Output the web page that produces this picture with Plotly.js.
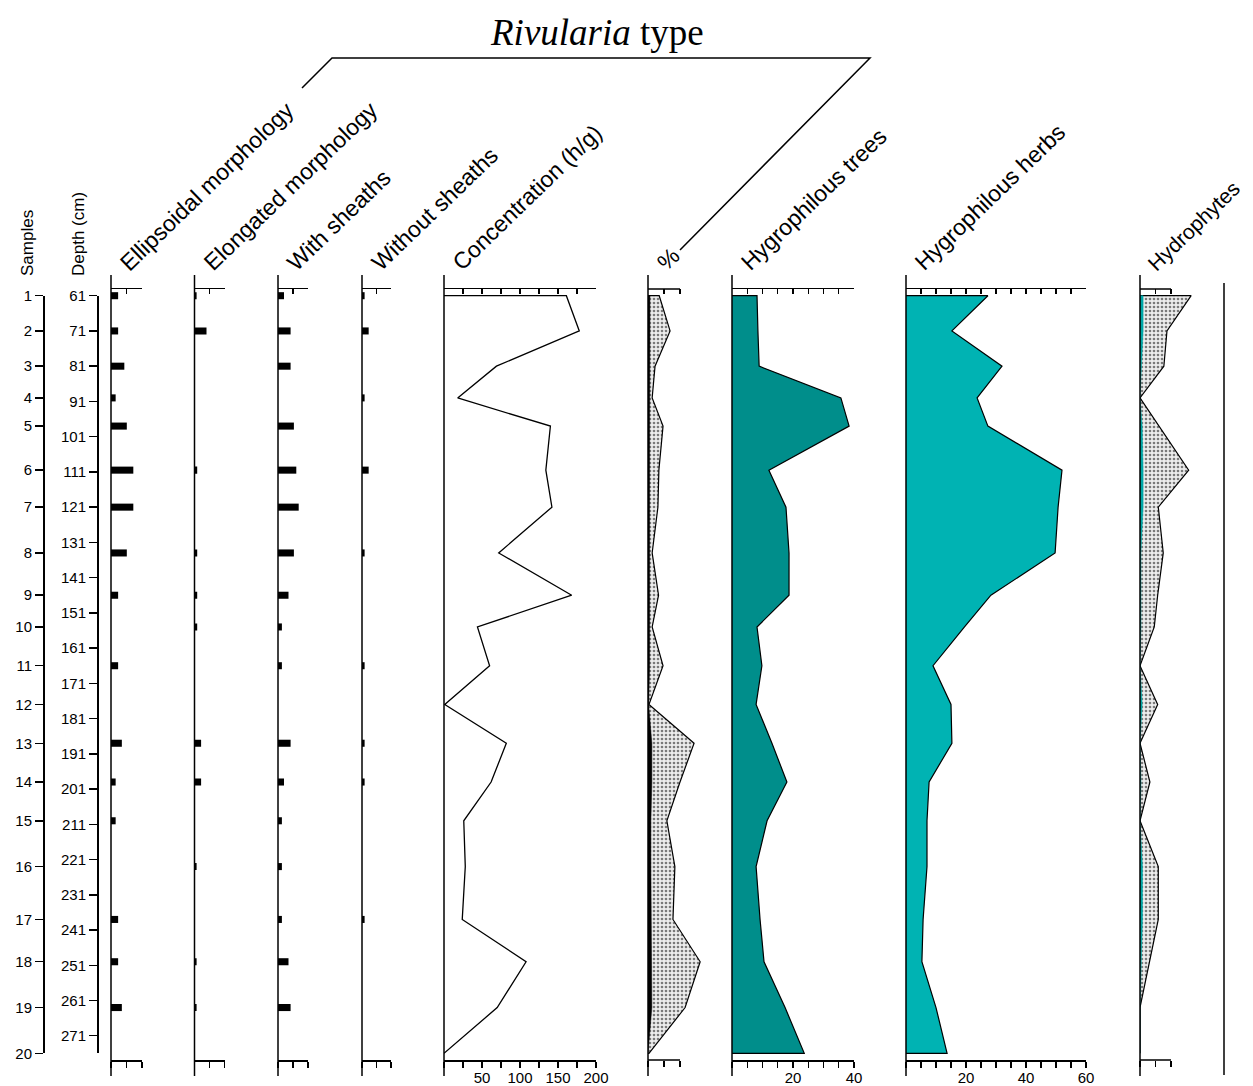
<!DOCTYPE html>
<html>
<head>
<meta charset="utf-8">
<script src="https://cdn.plot.ly/plotly-3.0.1.min.js"></script>
<style>html,body{margin:0;padding:0;background:#fff}#chart{width:1253px;height:1086px}</style>
</head>
<body>
<div id="chart"></div>
<script>
// ---------------- DATA ----------------
const sampleLabels = ['1','2','3','4','5','6','7','8','9','10','11','12','13','14','15','16','17','18','19','20'];
const sampleDepths = [61,71,81,90,98,110.5,121,134,146,155,166,177,188,199,210,223,238,250,263,276];
const depthTicks = [61,71,81,91,101,111,121,131,141,151,161,171,181,191,201,211,221,231,241,251,261,271];

const ellipsoidal   = [2.3,2.3,4.3,1.5,5.1,7.2,7.2,5.1,2.3,0,2.3,0,3.5,1.5,1.5,0,2.3,2.3,3.5,0];
const elongated     = [0.7,4.0,0,0,0,0.9,0,0.9,0.9,0.9,0,0,2.2,2.2,0,0.7,0,0.7,0.7,0];
const withSheaths   = [2.0,4.2,4.2,0,5.3,6.1,6.9,5.3,3.5,1.3,1.3,0,4.2,2.0,1.3,1.3,1.3,3.5,4.2,0];
const withoutSheaths= [0.9,2.3,0,0.9,0,2.3,0,0.9,0,0,0.9,0,0.9,0.9,0,0,0.9,0,0,0];
const concentration = [161,178,69,18,140,134,142,72,168,44,60,1,82,62,26,28,24,108,70,0];
const rivPercent    = [0.6,0.6,0.5,0.5,0.5,0.5,0.5,0.5,0.5,0.5,0.5,0.2,1.2,1.2,0.9,0.9,1.1,1.2,1.2,0];
const rivPercentExag= [3.5,6.9,2.2,1.3,4.7,3.4,3.1,1.3,3.3,1.3,4.7,0.3,14.4,10,5.9,8.4,7.8,16.3,11.6,0.3];
const hygroTrees    = [8.2,8.5,8.9,35.7,38.4,12.1,17.7,18.7,18.7,8.2,9.8,7.9,13.1,18,11.5,7.9,9.2,10.5,17.4,23.7];
const hygroHerbs    = [27.3,15.3,32,23.7,27.3,52,50.7,49.7,28.3,19.5,9,15,15.3,7.7,7,7,5.7,5.3,10,13.7];
const hydrophytes   = [1,1,0.5,0,0.7,1,1,0.3,0.3,0.3,0,0.7,0,0.3,0,0.8,0.8,0.3,0,0];
const hydrophytesExag=[16.5,8.7,7.7,0,6.1,15.7,5.9,7.5,5.7,4.6,0,5.7,0,3.2,0,5.9,5.9,3,0,0];

const headers = ['Ellipsoidal morphology','Elongated morphology','With sheaths','Without sheaths',
                 'Concentration (h/g)','%','Hygrophilous trees','Hygrophilous herbs','Hydrophytes'];

// ---------------- LAYOUT HELPERS ----------------
const W = 1253, H = 1086;
const px = v => v / W;
const py = v => 1 - v / H;
const PXCM = 3.524, Y61 = 295.7;
const depthAt = p => 61 + (p - Y61) / PXCM;
const FONT = 'Liberation Sans, Arial, sans-serif';
const TOP = 289, BOT = 1060;

const panels = [
  {l:111, r:142, range:[0,10], tv:[0,5,10], tt:['','',''], line:true, hs:23},
  {l:194.5, r:224.5, range:[0,10], tv:[0,5,10], tt:['','',''], line:true, hs:23},
  {l:278, r:308, range:[0,10], tv:[0,5,10], tt:['','',''], line:true, hs:23},
  {l:362, r:391, range:[0,10], tv:[0,5,10], tt:['','',''], line:true, hs:23},
  {l:444, r:596, range:[0,200], tv:[0,25,50,75,100,125,150,175,200], tt:['','','50','','100','','150','','200'], line:true, hs:23},
  {l:648, r:720, range:[0,22.5], tv:[0,5,10], tt:['','',''], line:false, lineTo:10, hs:23},
  {l:732, r:854, range:[0,40], tv:[0,5,10,15,20,25,30,35,40], tt:['','','','','20','','','','40'], line:true, hs:23},
  {l:906, r:1086, range:[0,60], tv:[0,5,10,15,20,25,30,35,40,45,50,55,60], tt:['','','','','20','','','','40','','','','60'], line:true, hs:23},
  {l:1140, r:1210, range:[0,22.58], tv:[0,5,10], tt:['','',''], line:false, lineTo:10, hs:21}
];

const layout = {
  width: W, height: H,
  margin: {l:0, r:0, t:0, b:0},
  paper_bgcolor: '#fff', plot_bgcolor: 'rgba(0,0,0,0)',
  showlegend: false,
  font: {family: FONT, color: '#000'},
  yaxis: {domain:[py(BOT), py(TOP)], range:[depthAt(BOT), depthAt(TOP)], visible:false, fixedrange:true},
  yaxis2: {domain:[py(Y61 + 215*PXCM), py(Y61)], range:[276, 61], anchor:'free', position:px(97), side:'left',
           showline:true, linewidth:1.5, linecolor:'#000', ticks:'outside', ticklen:8, tickwidth:1.5, tickcolor:'#000',
           tickvals: depthTicks, ticktext: depthTicks.map(String), tickfont:{size:15, family:FONT, color:'#000'},
           showgrid:false, zeroline:false},
  yaxis3: {domain:[py(Y61 + 215*PXCM), py(Y61)], range:[276, 61], anchor:'free', position:px(43), side:'left',
           showline:true, linewidth:1.5, linecolor:'#000', ticks:'outside', ticklen:8, tickwidth:1.5, tickcolor:'#000',
           tickvals: sampleDepths, ticktext: sampleLabels, tickfont:{size:15, family:FONT, color:'#000'},
           showgrid:false, zeroline:false},
  shapes: [], annotations: []
};

panels.forEach((p, i) => {
  const n = i + 1, t = i + 10;
  const base = {domain:[px(p.l), px(p.r)], range:p.range, showgrid:false, zeroline:false, fixedrange:true,
                tickvals:p.tv, ticktext:p.tt, tickcolor:'#000', tickwidth:1.2, linecolor:'#000', linewidth:1.5};
  layout['xaxis' + (n === 1 ? '' : n)] = Object.assign({}, base, {
    anchor:'y', side:'bottom', showline:p.line, ticks:'outside', ticklen:6, ticklabelstandoff:-3,
    tickfont:{size:15, family:FONT, color:'#000'}
  });
  layout['xaxis' + t] = Object.assign({}, base, {
    anchor:'y', overlaying:'x' + (n === 1 ? '' : n), side:'top', showline:p.line, ticks:'inside', ticklen:5,
    showticklabels:false
  });
  const xr = 'x' + (n === 1 ? '' : n);
  // panel vertical axis line
  layout.shapes.push({type:'line', xref:'paper', yref:'paper', x0:px(p.l), x1:px(p.l), y0:py(1076), y1:py(275),
                      line:{color:'#000', width:1.5}});
  if (!p.line) {
    [BOT, TOP].forEach(yy => layout.shapes.push({type:'line', xref:xr, yref:'paper', x0:0, x1:p.lineTo,
      y0:py(yy), y1:py(yy), line:{color:'#000', width:1.5}}));
  }
  layout.annotations.push({text:headers[i], xref:'paper', yref:'paper', x:px(p.l + 1), y:py(278),
    xanchor:'left', yanchor:'bottom', textangle:-44, showarrow:false,
    font:{size:p.hs, family:FONT, color:'#000'}});
});

// right boundary line
layout.shapes.push({type:'line', xref:'paper', yref:'paper', x0:px(1224), x1:px(1224), y0:py(1075), y1:py(283),
                    line:{color:'#000', width:1.5}});
// bracket for Rivularia type group
layout.shapes.push({type:'path', xref:'paper', yref:'paper',
  path:`M ${px(302)} ${py(88)} L ${px(332)} ${py(58)} L ${px(870)} ${py(58)} L ${px(680)} ${py(250)}`,
  line:{color:'#000', width:1.5}});

layout.annotations.push({text:'<i>Rivularia</i> type', xref:'paper', yref:'paper', x:px(597), y:py(33),
  xanchor:'center', yanchor:'middle', showarrow:false,
  font:{size:37, family:'Liberation Serif, Times New Roman, serif', color:'#000'}});
layout.annotations.push({text:'Samples', xref:'paper', yref:'paper', x:px(27), y:py(278),
  xanchor:'center', yanchor:'bottom', textangle:-90, showarrow:false, font:{size:17, family:FONT, color:'#000'}});
layout.annotations.push({text:'Depth (cm)', xref:'paper', yref:'paper', x:px(78), y:py(278),
  xanchor:'center', yanchor:'bottom', textangle:-90, showarrow:false, font:{size:17, family:FONT, color:'#000'}});

// ---------------- TRACES ----------------
const traces = [];
const closed = vals => ({x:[0].concat(vals, [0]), y:[sampleDepths[0]].concat(sampleDepths, [sampleDepths[sampleDepths.length-1]])});
function bars(vals, ax) {
  traces.push({type:'bar', orientation:'h', x:vals, y:sampleDepths, width:2, base:0,
    marker:{color:'#000', line:{width:0}}, xaxis:ax, yaxis:'y', hoverinfo:'skip'});
}
function area(vals, ax, fill, lineColor, lw, pattern) {
  const c = closed(vals);
  const tr = {type:'scatter', mode:'lines', x:c.x, y:c.y, fill:'toself', fillcolor:fill,
    line:{color:lineColor, width:lw}, xaxis:ax, yaxis:'y', hoverinfo:'skip'};
  if (pattern) tr.fillpattern = pattern;
  traces.push(tr);
}
const stipple = {shape:'.', fgcolor:'#7a7a7a', bgcolor:'#ededed', size:4, solidity:0.35};

bars(ellipsoidal, 'x');
bars(elongated, 'x2');
bars(withSheaths, 'x3');
bars(withoutSheaths, 'x4');
area(concentration, 'x5', '#ffffff', '#000', 1.3);
area(rivPercentExag, 'x6', '#e6e6e6', '#000', 1.2, stipple);
area(rivPercent, 'x6', '#000', '#000', 0.5);
area(hygroTrees, 'x7', '#008e8b', '#000', 1.2);
area(hygroHerbs, 'x8', '#00b3b3', '#000', 1.2);
area(hydrophytesExag, 'x9', '#e6e6e6', '#000', 1.2, stipple);
area(hydrophytes, 'x9', '#00a8a8', '#00a8a8', 0.5);

// carriers for top axes and the free depth / sample axes
for (let t = 10; t <= 18; t++) traces.push({type:'scatter', mode:'markers', x:[null], y:[null], xaxis:'x'+t, yaxis:'y', hoverinfo:'skip'});
traces.push({type:'scatter', mode:'markers', x:[null], y:[null], xaxis:'x', yaxis:'y2', hoverinfo:'skip'});
traces.push({type:'scatter', mode:'markers', x:[null], y:[null], xaxis:'x', yaxis:'y3', hoverinfo:'skip'});

Plotly.newPlot('chart', traces, layout, {staticPlot:true, displayModeBar:false});
</script>
</body>
</html>
